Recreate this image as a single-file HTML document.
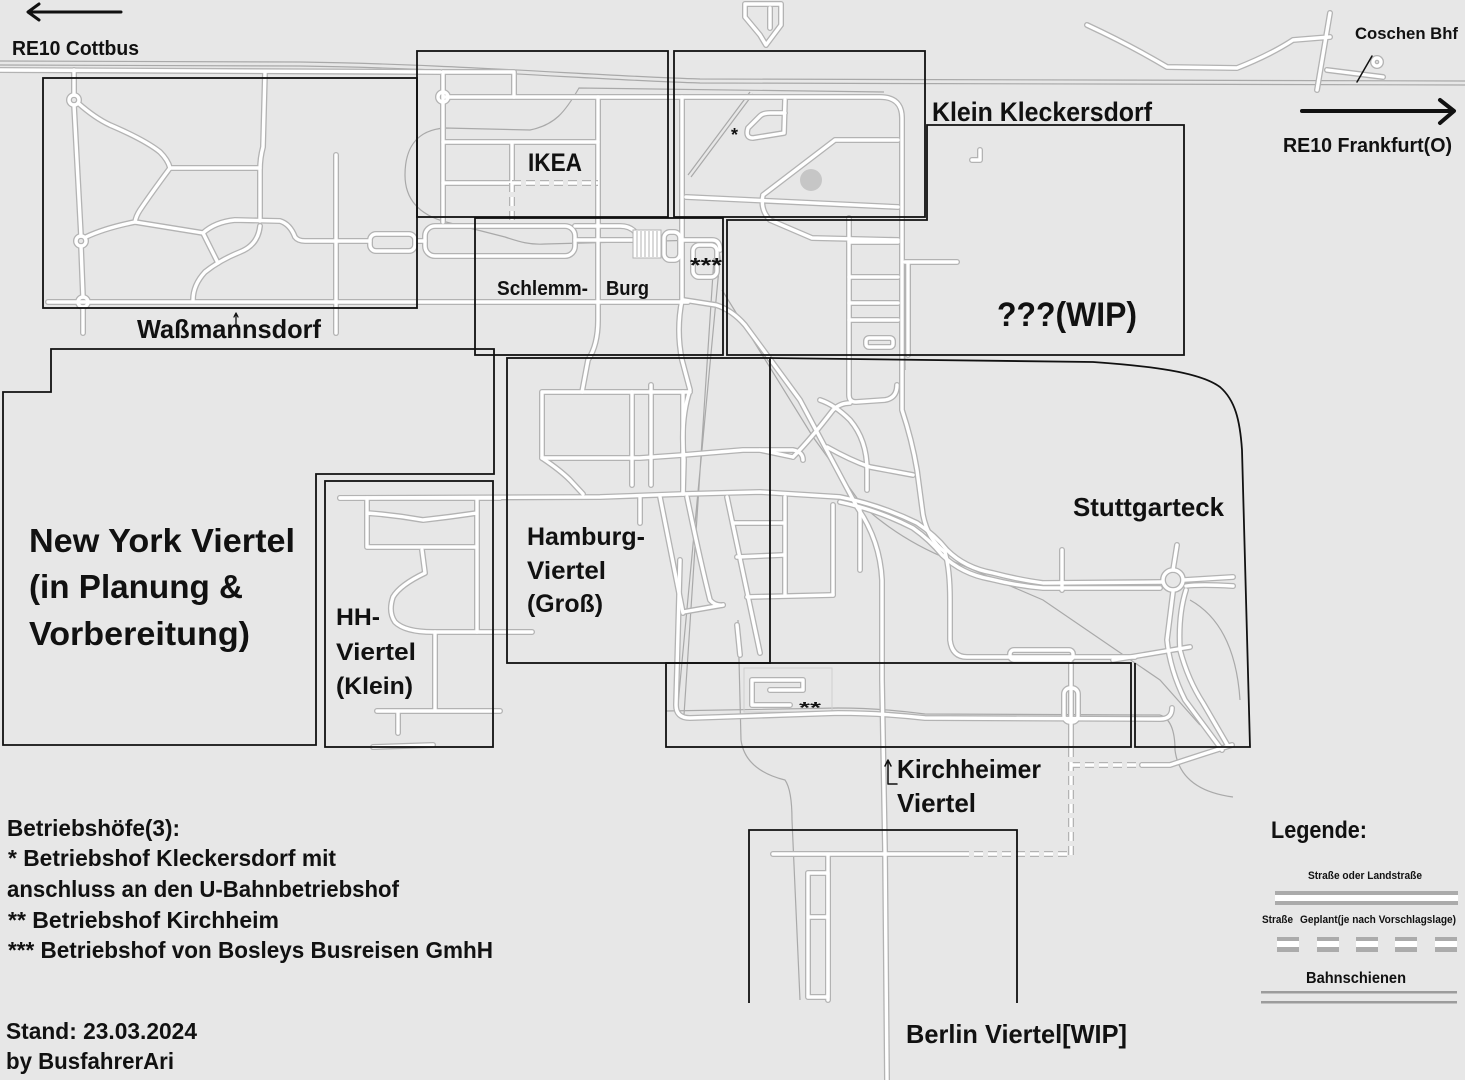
<!DOCTYPE html>
<html><head><meta charset="utf-8"><style>
html,body{margin:0;padding:0;background:#e7e7e7;}
svg{display:block;}
text{font-family:"Liberation Sans",sans-serif;font-weight:bold;fill:#111;}
</style></head><body>
<svg width="1465" height="1080" viewBox="0 0 1465 1080" xmlns="http://www.w3.org/2000/svg">
<rect width="1465" height="1080" fill="#e7e7e7"/>
<defs>
<g id="roads" fill="none">
  <!-- top -->
  <path d="M0,70 L440,72"/>
  <path d="M443,72 L514,72 L514,97"/>
  <path d="M443,72 L443,222"/>
  <circle cx="443" cy="97" r="5"/>
  <path d="M443,97 L880,97 Q902,97 902,118 L902,410 Q912,440 917,470 L923,515 Q928,540 945,552"/>
  <!-- Wassmannsdorf -->
  <path d="M74,70 L74,95 M74,105 L81,236 M81,246 L83,297 M83,307 L83,333"/>
  <circle cx="74" cy="100" r="5"/><circle cx="81" cy="241" r="5"/><circle cx="83" cy="302" r="5"/>
  <path d="M78,103 Q95,118 110,125 Q145,140 160,152 Q168,160 170,168 L260,168"/>
  <path d="M265,72 L263,147 Q260,158 260,170 L260,221"/>
  <path d="M170,168 Q150,195 140,210 Q136,216 135,222"/>
  <path d="M86,237 Q105,228 135,222 L203,233"/>
  <path d="M203,233 Q215,222 235,220 L280,221 Q290,224 295,237 Q298,241 305,241 L370,241"/>
  <path d="M336,155 L336,333"/>
  <path d="M203,233 L218,263"/>
  <path d="M260,226 Q258,245 240,252 Q220,260 205,272 Q193,285 193,300"/>
  <path d="M48,302 L688,302"/>
  <rect x="370" y="234" width="45" height="17" rx="6"/>
  <!-- IKEA -->
  <path d="M443,142 L598,142 M443,183 L512,183 M512,142 L512,183"/>
  <path d="M598,97 L598,320 Q598,345 588,360 L582,392"/>
  <!-- KK -->
  <path d="M682,97 L682,300 Q676,330 682,360 L690,390 Q680,420 684,460 L683,494"/>
  <path d="M785,100 L784,133 L753,138 Q745,138 748,128 L760,116 Q763,113 770,113 L785,113"/>
  <path d="M763,195 L835,140 L898,140 M686,197 L898,207 M763,195 Q760,210 770,220 L812,238 L898,240"/>
  <!-- ??? -->
  <path d="M849,218 L849,395 Q849,402 856,402 L885,400 Q897,398 897,385"/>
  <path d="M849,242 L898,242 M849,277 L898,277 M849,303 L898,303 M849,320 L898,320"/>
  <rect x="866" y="338" width="27" height="9" rx="3"/>
  <path d="M905,262 L957,262 M908,262 L908,355"/>
  <!-- Schlemm-Burg -->
  <path d="M417,241 L425,241"/>
  <rect x="425" y="226" width="150" height="30" rx="10"/>
  <path d="M575,226 L620,226 Q630,226 635,232 M575,240 L640,240"/>
  <rect x="664" y="232" width="16" height="28" rx="6"/>
  <rect x="693" y="245" width="24" height="32" rx="6"/>
  <path d="M682,240 L712,240 Q720,240 720,250"/>
  <path d="M684,300 L716,305 Q732,310 745,325 L800,400 L857,507 Q880,540 882,580 L882,680 L885,850 L887,1080"/>
  <!-- main E-W -->
  <path d="M340,498 L600,497 L683,494 L760,492 L840,497 Q880,505 917,523 Q935,535 947,550 Q965,568 993,573 Q1020,580 1043,583 L1162,582"/>
  <path d="M840,502 Q878,510 913,528 Q930,540 942,555 Q962,574 990,579 Q1018,586 1043,588 L1160,588"/>
  <circle cx="1173" cy="580" r="10"/>
  <path d="M1184,580 L1233,577 M1186,586 Q1200,584 1233,586"/>
  <!-- Hamburg -->
  <path d="M542,392 L690,392 M542,392 L542,458 M542,458 L640,458 L683,455 L743,450 L793,450 Q803,452 803,460"/>
  <path d="M542,458 Q560,470 570,480 L583,494"/>
  <path d="M632,392 L632,485 M651,385 L651,485 M683,392 L683,494"/>
  <path d="M660,497 L683,613 M687,497 Q700,560 710,600 Q715,606 723,605 M727,497 L760,653"/>
  <path d="M733,523 L783,523 M737,557 L783,555 M747,597 L833,595 M683,612 L723,605 M640,497 L640,523"/>
  <path d="M785,497 L785,595 M833,505 L833,595 M860,510 L860,570"/>
  <path d="M737,625 L740,655"/>
  <path d="M820,400 Q835,405 850,420 Q867,440 867,470 L867,490 M793,457 Q810,440 833,410 Q840,403 850,403"/>
  <path d="M760,450 L793,457 M827,447 Q850,460 870,467 L913,475"/>
  <!-- HH -->
  <path d="M340,498 L500,498"/>
  <path d="M367,513 Q395,515 423,520 Q450,517 477,513 M367,547 L477,547 M367,498 L367,547 M477,498 L477,632"/>
  <path d="M422,550 L425,573 Q400,585 393,597 Q388,612 395,622 Q405,632 433,632 L532,632"/>
  <path d="M435,632 L435,711 M377,711 L500,711 M398,711 L398,733 M373,747 L433,745"/>
  <!-- Stuttgarteck -->
  <path d="M945,552 Q950,570 950,600 L950,640 Q952,657 967,657 L1135,657"/>
  <rect x="1010" y="650" width="63" height="10" rx="4"/>
  <path d="M1062,550 L1062,590 M1113,660 L1190,647"/>
  <path d="M1177,545 L1173,570 M1173,592 L1167,640 Q1170,670 1185,700 L1222,750"/>
  <path d="M1186,590 Q1178,615 1180,650 Q1188,680 1203,703 L1228,746"/>
  <!-- Kirchheim -->
  <path d="M680,560 L676,705 Q676,718 690,718 L838,713 Q880,713 925,718 L1160,719 Q1172,719 1172,708"/>
  <path d="M752,680 L803,680 L803,690 L770,690 M752,680 L752,705 L790,705"/>
  <path d="M1071,663 L1071,745"/>
  <rect x="1064" y="688" width="14" height="34" rx="6"/>
  <path d="M1142,765 L1170,765 Q1200,755 1232,745"/>
  <!-- Berlin -->
  <path d="M773,854 L960,854 M828,854 L828,1000"/>
  <path d="M808,873 L828,873 L828,997 L808,997 Z M808,917 L828,917"/>
  <!-- misc -->
  <path d="M745,4 L781,4 L781,25 L766,45 M745,4 L745,17 L760,35 L766,45 M770,8 L770,28"/>
  <path d="M1087,25 Q1130,45 1167,67 L1237,68 Q1270,55 1293,40 L1330,37 M1330,13 L1317,90 M1327,70 L1383,77"/>
  <circle cx="1377" cy="62" r="4"/>
  <path d="M972,160 L980,160 L980,150"/>
</g>
<g id="dash" fill="none">
  <path d="M512,183 L598,183 M512,183 L512,220"/>
  <path d="M1071,748 L1071,856 M1071,765 L1142,765 M960,854 L1071,854"/>
</g>
</defs>

<!-- rails -->
<g fill="none" stroke="#a9a9a9" stroke-width="1.2">
  <path d="M0,61 L300,62 C450,64 600,76 700,79 L1465,81"/>
  <path d="M0,65 L300,66 C450,68 600,80 700,83 L1465,85"/>
  <path d="M884,92 L579,88 C565,112 555,125 530,130 L445,128 C415,130 405,150 405,175 C405,200 420,215 446,222 L505,237 C520,242 530,245 545,244 L700,240 Q718,240 720,258"/>
  <path d="M720,258 L677,715 M714,258 L684,715"/>
  <path d="M688,175 L750,92 M691,177 L753,94"/>
  <path d="M902,110 L905,370"/>
  <path d="M722,290 L813,437 L862,505 Q900,540 950,560 L1043,600 L1160,680 L1200,725"/>
  <path d="M666,711 L838,708 Q880,708 925,714 L1160,715"/>
  <path d="M1160,715 Q1175,720 1175,750 Q1180,790 1233,797"/>
  <path d="M738,620 L741,740 Q745,770 785,780 Q792,790 792,820 L800,1000"/>
  <path d="M1190,600 Q1235,625 1240,700" />
</g>
<rect x="744" y="668" width="88" height="44" fill="none" stroke="#cfcfcf" stroke-width="1"/>

<use href="#roads" stroke="#b3b3b3" stroke-width="6" stroke-linecap="round" stroke-linejoin="round"/>
<use href="#roads" stroke="#ffffff" stroke-width="3.4" stroke-linecap="round" stroke-linejoin="round"/>
<use href="#dash" stroke="#b3b3b3" stroke-width="6" stroke-dasharray="9 5"/>
<use href="#dash" stroke="#ffffff" stroke-width="3.4" stroke-dasharray="9 5"/>

<!-- depot stripes -->
<rect x="633" y="230" width="28" height="28" fill="#fff" stroke="#b3b3b3" stroke-width="1"/>
<g stroke="#b3b3b3" stroke-width="1">
  <path d="M637,231 V257 M641,231 V257 M645,231 V257 M649,231 V257 M653,231 V257 M657,231 V257"/>
</g>
<circle cx="811" cy="180" r="11" fill="#c6c6c6"/>

<!-- black region outlines -->
<g fill="none" stroke="#111" stroke-width="1.8">
  <rect x="43" y="78" width="374" height="230"/>
  <rect x="417" y="51" width="251" height="166"/>
  <rect x="674" y="51" width="251" height="166"/>
  <path d="M927,125 L1184,125 L1184,355 L727,355 L727,220 L927,220 Z"/>
  <rect x="475" y="218" width="248" height="137"/>
  <path d="M51,349 L494,349 L494,474 L316,474 L316,745 L3,745 L3,392 L51,392 Z"/>
  <rect x="325" y="481" width="168" height="266"/>
  <rect x="507" y="358" width="263" height="305"/>
  <path d="M770,358 L1093,362 C1150,366 1200,372 1220,387 C1235,400 1240,420 1242,450 L1250,747 L1135,747 L1135,663"/>
  <rect x="666" y="663" width="465" height="84"/>
  <path d="M749,1003 L749,830 L1017,830 L1017,1003"/>
</g>

<!-- arrows -->
<g stroke="#111" fill="none" stroke-linecap="round" stroke-linejoin="round">
  <path d="M29,12 L121,12" stroke-width="3"/>
  <path d="M39,4 L28,12 L39,20" stroke-width="3"/>
  <path d="M1302,111 L1453,111" stroke-width="4"/>
  <path d="M1440,100 L1454,111 L1440,123" stroke-width="4"/>
  <path d="M1372,56 L1357,82" stroke-width="1.5"/>
  <path d="M888,784 L888,762 M885,766 L888,760 L891,766 M888,784 L897,784" stroke-width="1.5"/>
  <path d="M236,324 L236,314 M234,317 L236,313 L238,317" stroke-width="1.3"/>
</g>

<!-- labels -->
<text x="12" y="55" font-size="20" textLength="127" lengthAdjust="spacingAndGlyphs">RE10 Cottbus</text>
<text x="1283" y="152" font-size="20" textLength="169" lengthAdjust="spacingAndGlyphs">RE10 Frankfurt(O)</text>
<text x="1355" y="39" font-size="17" textLength="103" lengthAdjust="spacingAndGlyphs">Coschen Bhf</text>
<text x="932" y="121" font-size="27" textLength="220" lengthAdjust="spacingAndGlyphs">Klein Kleckersdorf</text>
<text x="528" y="171" font-size="25" textLength="54" lengthAdjust="spacingAndGlyphs">IKEA</text>
<text x="497" y="295" font-size="20" textLength="91" lengthAdjust="spacingAndGlyphs">Schlemm-</text>
<text x="606" y="295" font-size="20" textLength="43" lengthAdjust="spacingAndGlyphs">Burg</text>
<text x="690" y="272" font-size="20" textLength="32" lengthAdjust="spacingAndGlyphs">***</text>
<text x="731" y="141" font-size="18">*</text>
<text x="997" y="326" font-size="34" textLength="140" lengthAdjust="spacingAndGlyphs">???(WIP)</text>
<text x="137" y="338" font-size="26" textLength="184" lengthAdjust="spacingAndGlyphs">Waßmannsdorf</text>
<text x="29" y="552" font-size="33" textLength="266" lengthAdjust="spacingAndGlyphs">New York Viertel</text>
<text x="29" y="598" font-size="33" textLength="214" lengthAdjust="spacingAndGlyphs">(in Planung &amp;</text>
<text x="29" y="645" font-size="33" textLength="221" lengthAdjust="spacingAndGlyphs">Vorbereitung)</text>
<text x="336" y="625" font-size="24" textLength="44" lengthAdjust="spacingAndGlyphs">HH-</text>
<text x="336" y="660" font-size="24" textLength="80" lengthAdjust="spacingAndGlyphs">Viertel</text>
<text x="336" y="694" font-size="24" textLength="77" lengthAdjust="spacingAndGlyphs">(Klein)</text>
<text x="527" y="545" font-size="25" textLength="118" lengthAdjust="spacingAndGlyphs">Hamburg-</text>
<text x="527" y="579" font-size="25" textLength="79" lengthAdjust="spacingAndGlyphs">Viertel</text>
<text x="527" y="612" font-size="25" textLength="76" lengthAdjust="spacingAndGlyphs">(Groß)</text>
<text x="1073" y="516" font-size="26" textLength="151" lengthAdjust="spacingAndGlyphs">Stuttgarteck</text>
<text x="897" y="778" font-size="26" textLength="144" lengthAdjust="spacingAndGlyphs">Kirchheimer</text>
<text x="897" y="812" font-size="26" textLength="79" lengthAdjust="spacingAndGlyphs">Viertel</text>
<text x="799" y="713" font-size="16" textLength="22" lengthAdjust="spacingAndGlyphs">**</text>
<text x="906" y="1043" font-size="26" textLength="221" lengthAdjust="spacingAndGlyphs">Berlin Viertel[WIP]</text>

<!-- legend -->
<text x="1271" y="838" font-size="24" textLength="96" lengthAdjust="spacingAndGlyphs">Legende:</text>
<text x="1308" y="879" font-size="11" textLength="114" lengthAdjust="spacingAndGlyphs">Straße oder Landstraße</text>
<rect x="1275" y="891" width="183" height="14" fill="#ababab"/>
<rect x="1275" y="895" width="183" height="6" fill="#fff"/>
<text x="1262" y="923" font-size="11" textLength="31" lengthAdjust="spacingAndGlyphs">Straße</text>
<text x="1300" y="923" font-size="11" textLength="156" lengthAdjust="spacingAndGlyphs">Geplant(je nach Vorschlagslage)</text>
<g fill="#ababab">
  <rect x="1277" y="937" width="22" height="15"/><rect x="1317" y="937" width="22" height="15"/>
  <rect x="1356" y="937" width="22" height="15"/><rect x="1395" y="937" width="22" height="15"/>
  <rect x="1435" y="937" width="22" height="15"/>
</g>
<g fill="#fff">
  <rect x="1277" y="941" width="22" height="6"/><rect x="1317" y="941" width="22" height="6"/>
  <rect x="1356" y="941" width="22" height="6"/><rect x="1395" y="941" width="22" height="6"/>
  <rect x="1435" y="941" width="22" height="6"/>
</g>
<text x="1306" y="983" font-size="16" textLength="100" lengthAdjust="spacingAndGlyphs">Bahnschienen</text>
<rect x="1261" y="991" width="196" height="2.5" fill="#9c9c9c"/>
<rect x="1261" y="1001" width="196" height="2.5" fill="#9c9c9c"/>

<!-- bottom-left notes -->
<text x="7" y="836" font-size="23" textLength="173" lengthAdjust="spacingAndGlyphs">Betriebshöfe(3):</text>
<text x="8" y="866" font-size="23" textLength="328" lengthAdjust="spacingAndGlyphs">* Betriebshof Kleckersdorf mit</text>
<text x="7" y="897" font-size="23" textLength="392" lengthAdjust="spacingAndGlyphs">anschluss an den U-Bahnbetriebshof</text>
<text x="8" y="928" font-size="23" textLength="271" lengthAdjust="spacingAndGlyphs">** Betriebshof Kirchheim</text>
<text x="8" y="958" font-size="23" textLength="485" lengthAdjust="spacingAndGlyphs">*** Betriebshof von Bosleys Busreisen GmhH</text>
<text x="6" y="1039" font-size="23" textLength="191" lengthAdjust="spacingAndGlyphs">Stand: 23.03.2024</text>
<text x="6" y="1069" font-size="23" textLength="168" lengthAdjust="spacingAndGlyphs">by BusfahrerAri</text>
</svg>
</body></html>
